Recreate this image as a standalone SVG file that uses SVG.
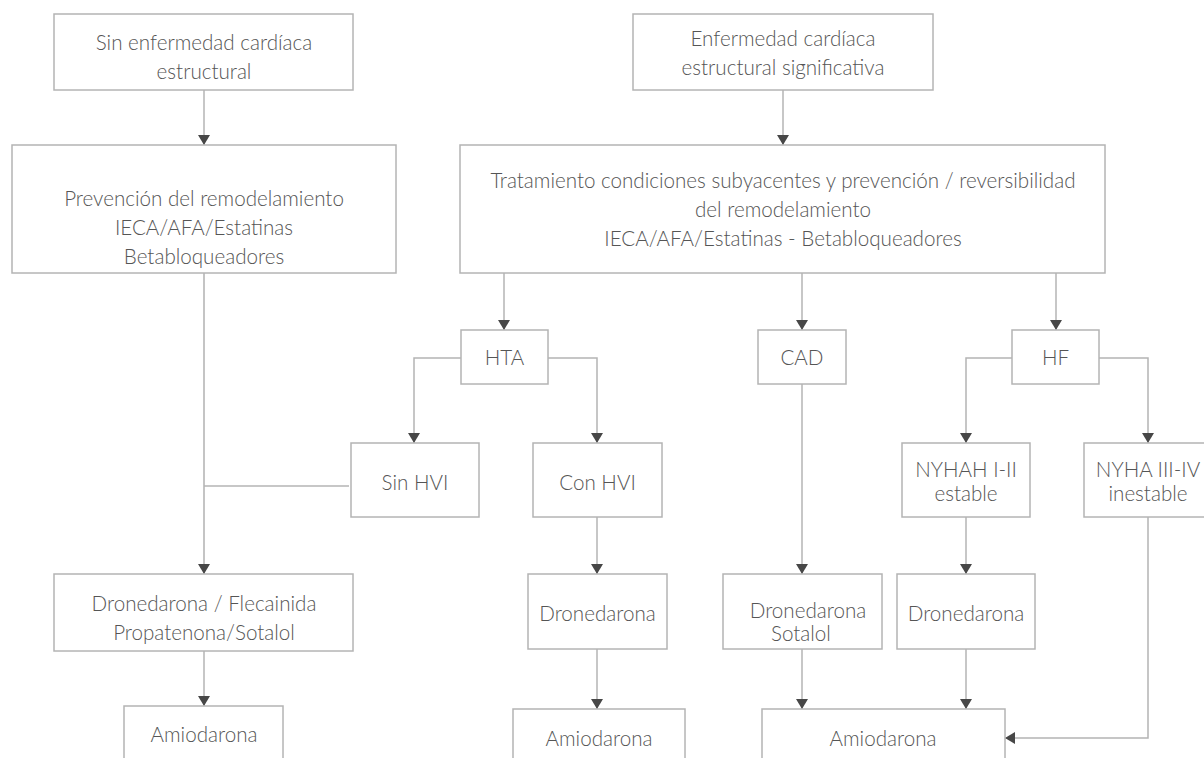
<svg xmlns="http://www.w3.org/2000/svg" width="1204" height="758" viewBox="0 0 1204 758">
<style>
.box{fill:#fff;stroke:#b4b4b4;stroke-width:1.5}
.t{font-family:Lato,"Liberation Sans",sans-serif;font-size:20.6px;font-weight:300;fill:#555;text-anchor:middle;dominant-baseline:central}
.c{fill:none;stroke:#b4b4b4;stroke-width:1.5}
</style>
<defs>
<marker id="arr" markerUnits="userSpaceOnUse" viewBox="0 0 10 12" markerWidth="10" markerHeight="12" refX="10" refY="6" orient="auto">
<path d="M0,0 L10,6 L0,12 z" fill="#474747"/>
</marker>
</defs>
<rect width="1204" height="758" fill="#fff"/>
<g id="connectors">
<path class="c" d="M204,90 V145" marker-end="url(#arr)"/>
<path class="c" d="M204,273 V574" marker-end="url(#arr)" style="stroke-width:2;stroke:#c4c4c4"/>
<path class="c" d="M349,486 H204"/>
<path class="c" d="M783,90 V145" marker-end="url(#arr)"/>
<path class="c" d="M504,273 V330" marker-end="url(#arr)"/>
<path class="c" d="M802,273 V330" marker-end="url(#arr)"/>
<path class="c" d="M1056,273 V330" marker-end="url(#arr)"/>
<path class="c" d="M461,358 H414 V443" marker-end="url(#arr)"/>
<path class="c" d="M548,358 H597 V443" marker-end="url(#arr)"/>
<path class="c" d="M597,517 V574" marker-end="url(#arr)"/>
<path class="c" d="M597,649 V709" marker-end="url(#arr)"/>
<path class="c" d="M802,384 V574" marker-end="url(#arr)"/>
<path class="c" d="M802,649 V709" marker-end="url(#arr)"/>
<path class="c" d="M1012,358 H966 V443" marker-end="url(#arr)"/>
<path class="c" d="M1099,358 H1148 V443" marker-end="url(#arr)"/>
<path class="c" d="M966,517 V574" marker-end="url(#arr)"/>
<path class="c" d="M966,649 V709" marker-end="url(#arr)"/>
<path class="c" d="M1148,517 V738 H1005" marker-end="url(#arr)"/>
<path class="c" d="M204,651 V706" marker-end="url(#arr)"/>
</g>
<g id="n1"><rect class="box" x="54" y="14" width="299" height="76"/>
<text class="t" x="204" y="42">Sin enfermedad cardíaca</text><text class="t" x="204" y="71">estructural</text></g>
<g id="n2"><rect class="box" x="12" y="145" width="384" height="128"/>
<text class="t" x="204" y="198">Prevención del remodelamiento</text><text class="t" x="204" y="227">IECA/AFA/Estatinas</text><text class="t" x="204" y="256">Betabloqueadores</text></g>
<g id="n3"><rect class="box" x="633" y="14" width="300" height="76"/>
<text class="t" x="783" y="38">Enfermedad cardíaca</text><text class="t" x="783" y="67">estructural significativa</text></g>
<g id="n4"><rect class="box" x="460" y="145" width="645" height="128"/>
<text class="t" x="783" y="180">Tratamiento condiciones subyacentes y prevención / reversibilidad</text><text class="t" x="783" y="209">del remodelamiento</text><text class="t" x="783" y="238">IECA/AFA/Estatinas - Betabloqueadores</text></g>
<g id="n5"><rect class="box" x="461" y="330" width="87" height="54"/><text class="t" x="504.5" y="357">HTA</text></g>
<g id="n6"><rect class="box" x="758" y="330" width="88" height="54"/><text class="t" x="802" y="357">CAD</text></g>
<g id="n7"><rect class="box" x="1012" y="330" width="87" height="54"/><text class="t" x="1055.5" y="357">HF</text></g>
<g id="n8"><rect class="box" x="351" y="443" width="128" height="74"/><text class="t" x="415" y="482">Sin HVI</text></g>
<g id="n9"><rect class="box" x="533" y="443" width="129" height="74"/><text class="t" x="597.5" y="482">Con HVI</text></g>
<g id="n10"><rect class="box" x="902" y="443" width="128" height="74"/><text class="t" x="966" y="469">NYHAH I-II</text><text class="t" x="966" y="493">estable</text></g>
<g id="n11"><rect class="box" x="1084" y="443" width="130" height="74"/><text class="t" x="1148" y="469">NYHA III-IV</text><text class="t" x="1148" y="493">inestable</text></g>
<g id="n12"><rect class="box" x="54" y="574" width="299" height="77"/><text class="t" x="204" y="603">Dronedarona / Flecainida</text><text class="t" x="204" y="632">Propatenona/Sotalol</text></g>
<g id="n13"><rect class="box" x="528" y="574" width="139" height="75"/><text class="t" x="597.5" y="613">Dronedarona</text></g>
<g id="n14"><rect class="box" x="723" y="574" width="159" height="75"/><text class="t" x="808" y="610">Dronedarona</text><text class="t" x="801" y="633">Sotalol</text></g>
<g id="n15"><rect class="box" x="897" y="574" width="138" height="75"/><text class="t" x="966" y="613">Dronedarona</text></g>
<g id="n16"><rect class="box" x="124" y="706" width="159" height="70"/><text class="t" x="204" y="734">Amiodarona</text></g>
<g id="n17"><rect class="box" x="513" y="709" width="172" height="70"/><text class="t" x="599" y="738">Amiodarona</text></g>
<g id="n18"><rect class="box" x="762" y="709" width="243" height="70"/><text class="t" x="883" y="738">Amiodarona</text></g>
</svg>
